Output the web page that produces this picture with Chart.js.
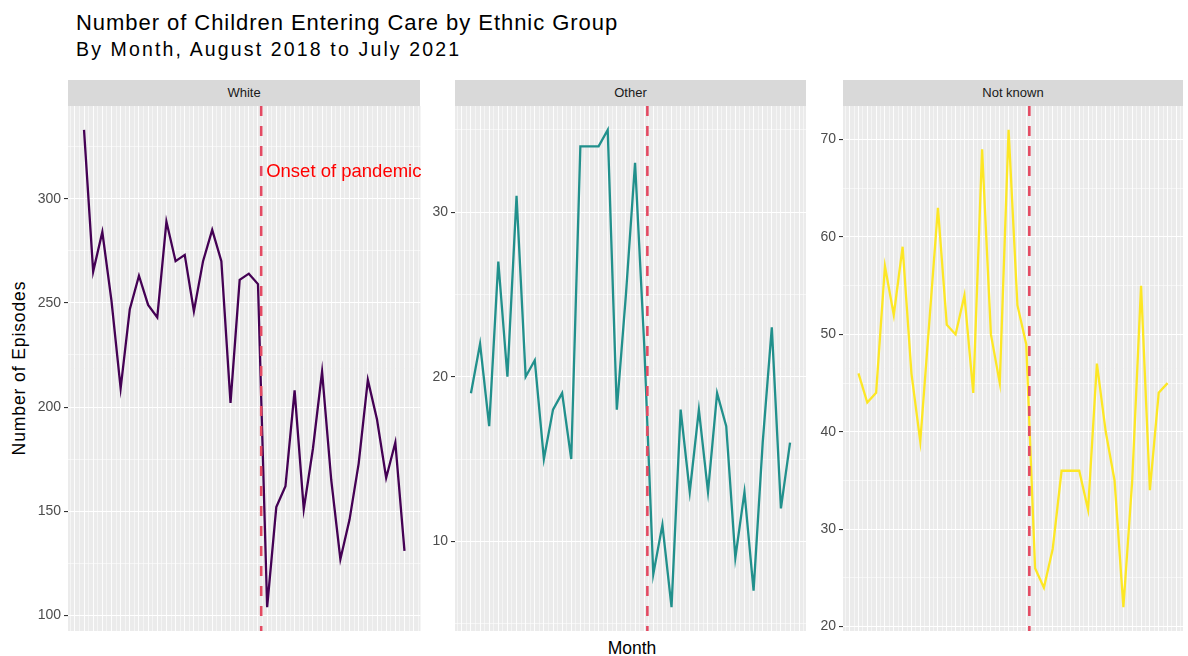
<!DOCTYPE html>
<html>
<head>
<meta charset="utf-8">
<script src="https://cdn.jsdelivr.net/npm/chart.js@4.4.0/dist/chart.umd.min.js"></script>
<style>
  body { margin: 0; width: 1188px; height: 656px; background: #fff; position: relative; overflow: hidden;
         font-family: "Liberation Sans", Arial, sans-serif; }
  .txt { position: absolute; white-space: nowrap; color: #000; }
  .strip { position: absolute; top: 80px; height: 26px; line-height: 26px; background: #D9D9D9;
           color: #1A1A1A; font-size: 13px; text-align: center; }
  canvas { position: absolute; top: 106px; }
</style>
</head>
<body>
<div class="txt" style="left:76px;top:12px;font-size:22px;line-height:22px;letter-spacing:0.95px">Number of Children Entering Care by Ethnic Group</div>
<div class="txt" style="left:76px;top:40px;font-size:19.5px;line-height:19.5px;letter-spacing:2.15px">By Month, August 2018 to July 2021</div>
<div class="txt" style="left:20px;top:368px;font-size:17.5px;line-height:17.5px;letter-spacing:0.9px;transform:translate(-50%,-50%) rotate(-90deg)">Number of Episodes</div>
<div class="txt" style="left:632px;top:649px;font-size:17.5px;line-height:17.5px;transform:translate(-50%,-50%)">Month</div>

<div class="strip" style="left:68px;width:352px">White</div>
<div class="strip" style="left:455px;width:351px">Other</div>
<div class="strip" style="left:843px;width:340px">Not known</div>

<canvas id="cWhite" width="424" height="525" style="left:0px"></canvas>
<canvas id="cOther" width="386" height="525" style="left:420px"></canvas>
<canvas id="cNotKnown" width="375" height="525" style="left:808px"></canvas>

<script>
// months, Aug 2018 .. Jul 2021
const months = ['Aug 2018','Sep 2018','Oct 2018','Nov 2018','Dec 2018','Jan 2019','Feb 2019','Mar 2019',
  'Apr 2019','May 2019','Jun 2019','Jul 2019','Aug 2019','Sep 2019','Oct 2019','Nov 2019','Dec 2019',
  'Jan 2020','Feb 2020','Mar 2020','Apr 2020','May 2020','Jun 2020','Jul 2020','Aug 2020','Sep 2020',
  'Oct 2020','Nov 2020','Dec 2020','Jan 2021','Feb 2021','Mar 2021','Apr 2021','May 2021','Jun 2021','Jul 2021'];

const whiteEpisodes = [333,265,284,251,209,247,263,249,243,289,270,273,246,270,285,270,202,261,264,259,
  104,152,162,208,151,180,217,165,127,146,173,213,194,166,183,131];
const otherEpisodes = [19,22,17,27,20,31,20,21,15,18,19,15,34,34,34,35,18,25,33,22,
  8,11,6,18,13,18,13,19,17,9,13,7,16,23,12,16];
const notKnownEpisodes = [46,43,44,57,52,59,46,39,51,63,51,50,54,44,69,50,45,71,53,49,
  26,24,28,36,36,36,32,47,40,35,22,35,55,34,44,45];

const whiteTicks = [100,150,200,250,300];
const otherTicks = [10,20,30];
const notKnownTicks = [20,30,40,50,60,70];

// onset of pandemic, as a (fractional) month index: mid March 2020
const onsetMonth = 19.35;
const onsetLabel = 'Onset of pandemic';
const onsetLabelValue = 313;

const panelBg = {
  id: 'panelBg',
  beforeDraw(chart) {
    const a = chart.chartArea, ctx = chart.ctx;
    ctx.save();
    ctx.fillStyle = '#EBEBEB';
    ctx.fillRect(a.left, a.top, a.right - a.left, a.bottom - a.top);
    ctx.restore();
  }
};

const onsetLine = {
  id: 'onsetLine',
  afterDatasetsDraw(chart, args, opts) {
    const a = chart.chartArea, ctx = chart.ctx;
    const x = chart.scales.x.getPixelForValue(onsetMonth);
    ctx.save();
    ctx.strokeStyle = '#E34A62';
    ctx.lineWidth = 2.6;
    ctx.setLineDash([10, 10]);
    ctx.beginPath();
    ctx.moveTo(x, a.top);
    ctx.lineTo(x, a.bottom);
    ctx.stroke();
    if (opts.label) {
      ctx.setLineDash([]);
      ctx.fillStyle = '#FF0000';
      ctx.font = '18.5px "Liberation Sans", Arial, sans-serif';
      ctx.textBaseline = 'middle';
      ctx.fillText(onsetLabel, x + 5, chart.scales.y.getPixelForValue(onsetLabelValue));
    }
    ctx.restore();
  }
};

// chart.js pads the chart area for tick labels; the panels here run edge to edge
const noPad = s => { s.paddingTop = 0; s.paddingBottom = 0; s.paddingLeft = 0; s.paddingRight = 0; };

function makePanel(id, values, color, majors, minorStep, axisW, showLabel, padRight) {
  const lo = Math.min(...values), hi = Math.max(...values), pad = (hi - lo) * 0.05;
  const yTicks = [];
  for (let v = majors[0] - minorStep * 2; v <= hi + pad; v += minorStep) {
    if (v >= lo - pad) yTicks.push(v);
  }
  const xTicks = [];
  for (let v = -1.5; v <= 36.5; v += 0.5) xTicks.push(v);

  new Chart(document.getElementById(id), {
    type: 'line',
    data: {
      labels: months,
      datasets: [{
        data: values.map((v, i) => ({ x: i, y: v })),
        borderColor: color,
        borderWidth: 2.3,
        pointRadius: 0,
        tension: 0,
        fill: false
      }]
    },
    options: {
      responsive: false,
      animation: false,
      layout: { padding: { top: 0, bottom: 0, left: 0, right: padRight } },
      plugins: {
        legend: { display: false },
        tooltip: { enabled: false },
        onsetLine: { label: showLabel }
      },
      scales: {
        x: {
          type: 'linear',
          min: -1.75,
          max: 36.75,
          afterBuildTicks: s => { s.ticks = xTicks.map(v => ({ value: v })); },
          afterFit: s => { s.height = 0; noPad(s); },
          ticks: { display: false },
          border: { display: false },
          grid: {
            drawTicks: false,
            color: '#FFFFFF',
            lineWidth: c => Number.isInteger(c.tick.value) ? 0.9 : 0.5
          }
        },
        y: {
          min: lo - pad,
          max: hi + pad,
          afterBuildTicks: s => { s.ticks = yTicks.map(v => ({ value: v })); },
          afterFit: s => { s.width = axisW; noPad(s); },
          border: { display: false },
          ticks: {
            color: '#4D4D4D',
            font: { size: 14, family: '"Liberation Sans", Arial, sans-serif' },
            padding: 3,
            callback: v => majors.includes(v) ? String(v) : ''
          },
          grid: {
            color: '#FFFFFF',
            lineWidth: c => majors.includes(c.tick.value) ? 1.1 : 0.55,
            tickLength: 4,
            tickColor: c => majors.includes(c.tick.value) ? '#333333' : 'rgba(0,0,0,0)',
            tickWidth: 1.1
          }
        }
      }
    },
    plugins: [panelBg, onsetLine]
  });
}

makePanel('cWhite', whiteEpisodes, '#440154', whiteTicks, 25, 68, true, 3.5);
makePanel('cOther', otherEpisodes, '#21908C', otherTicks, 5, 35, false, 0);
makePanel('cNotKnown', notKnownEpisodes, '#FDE725', notKnownTicks, 5, 35, false, 0);
</script>
</body>
</html>
